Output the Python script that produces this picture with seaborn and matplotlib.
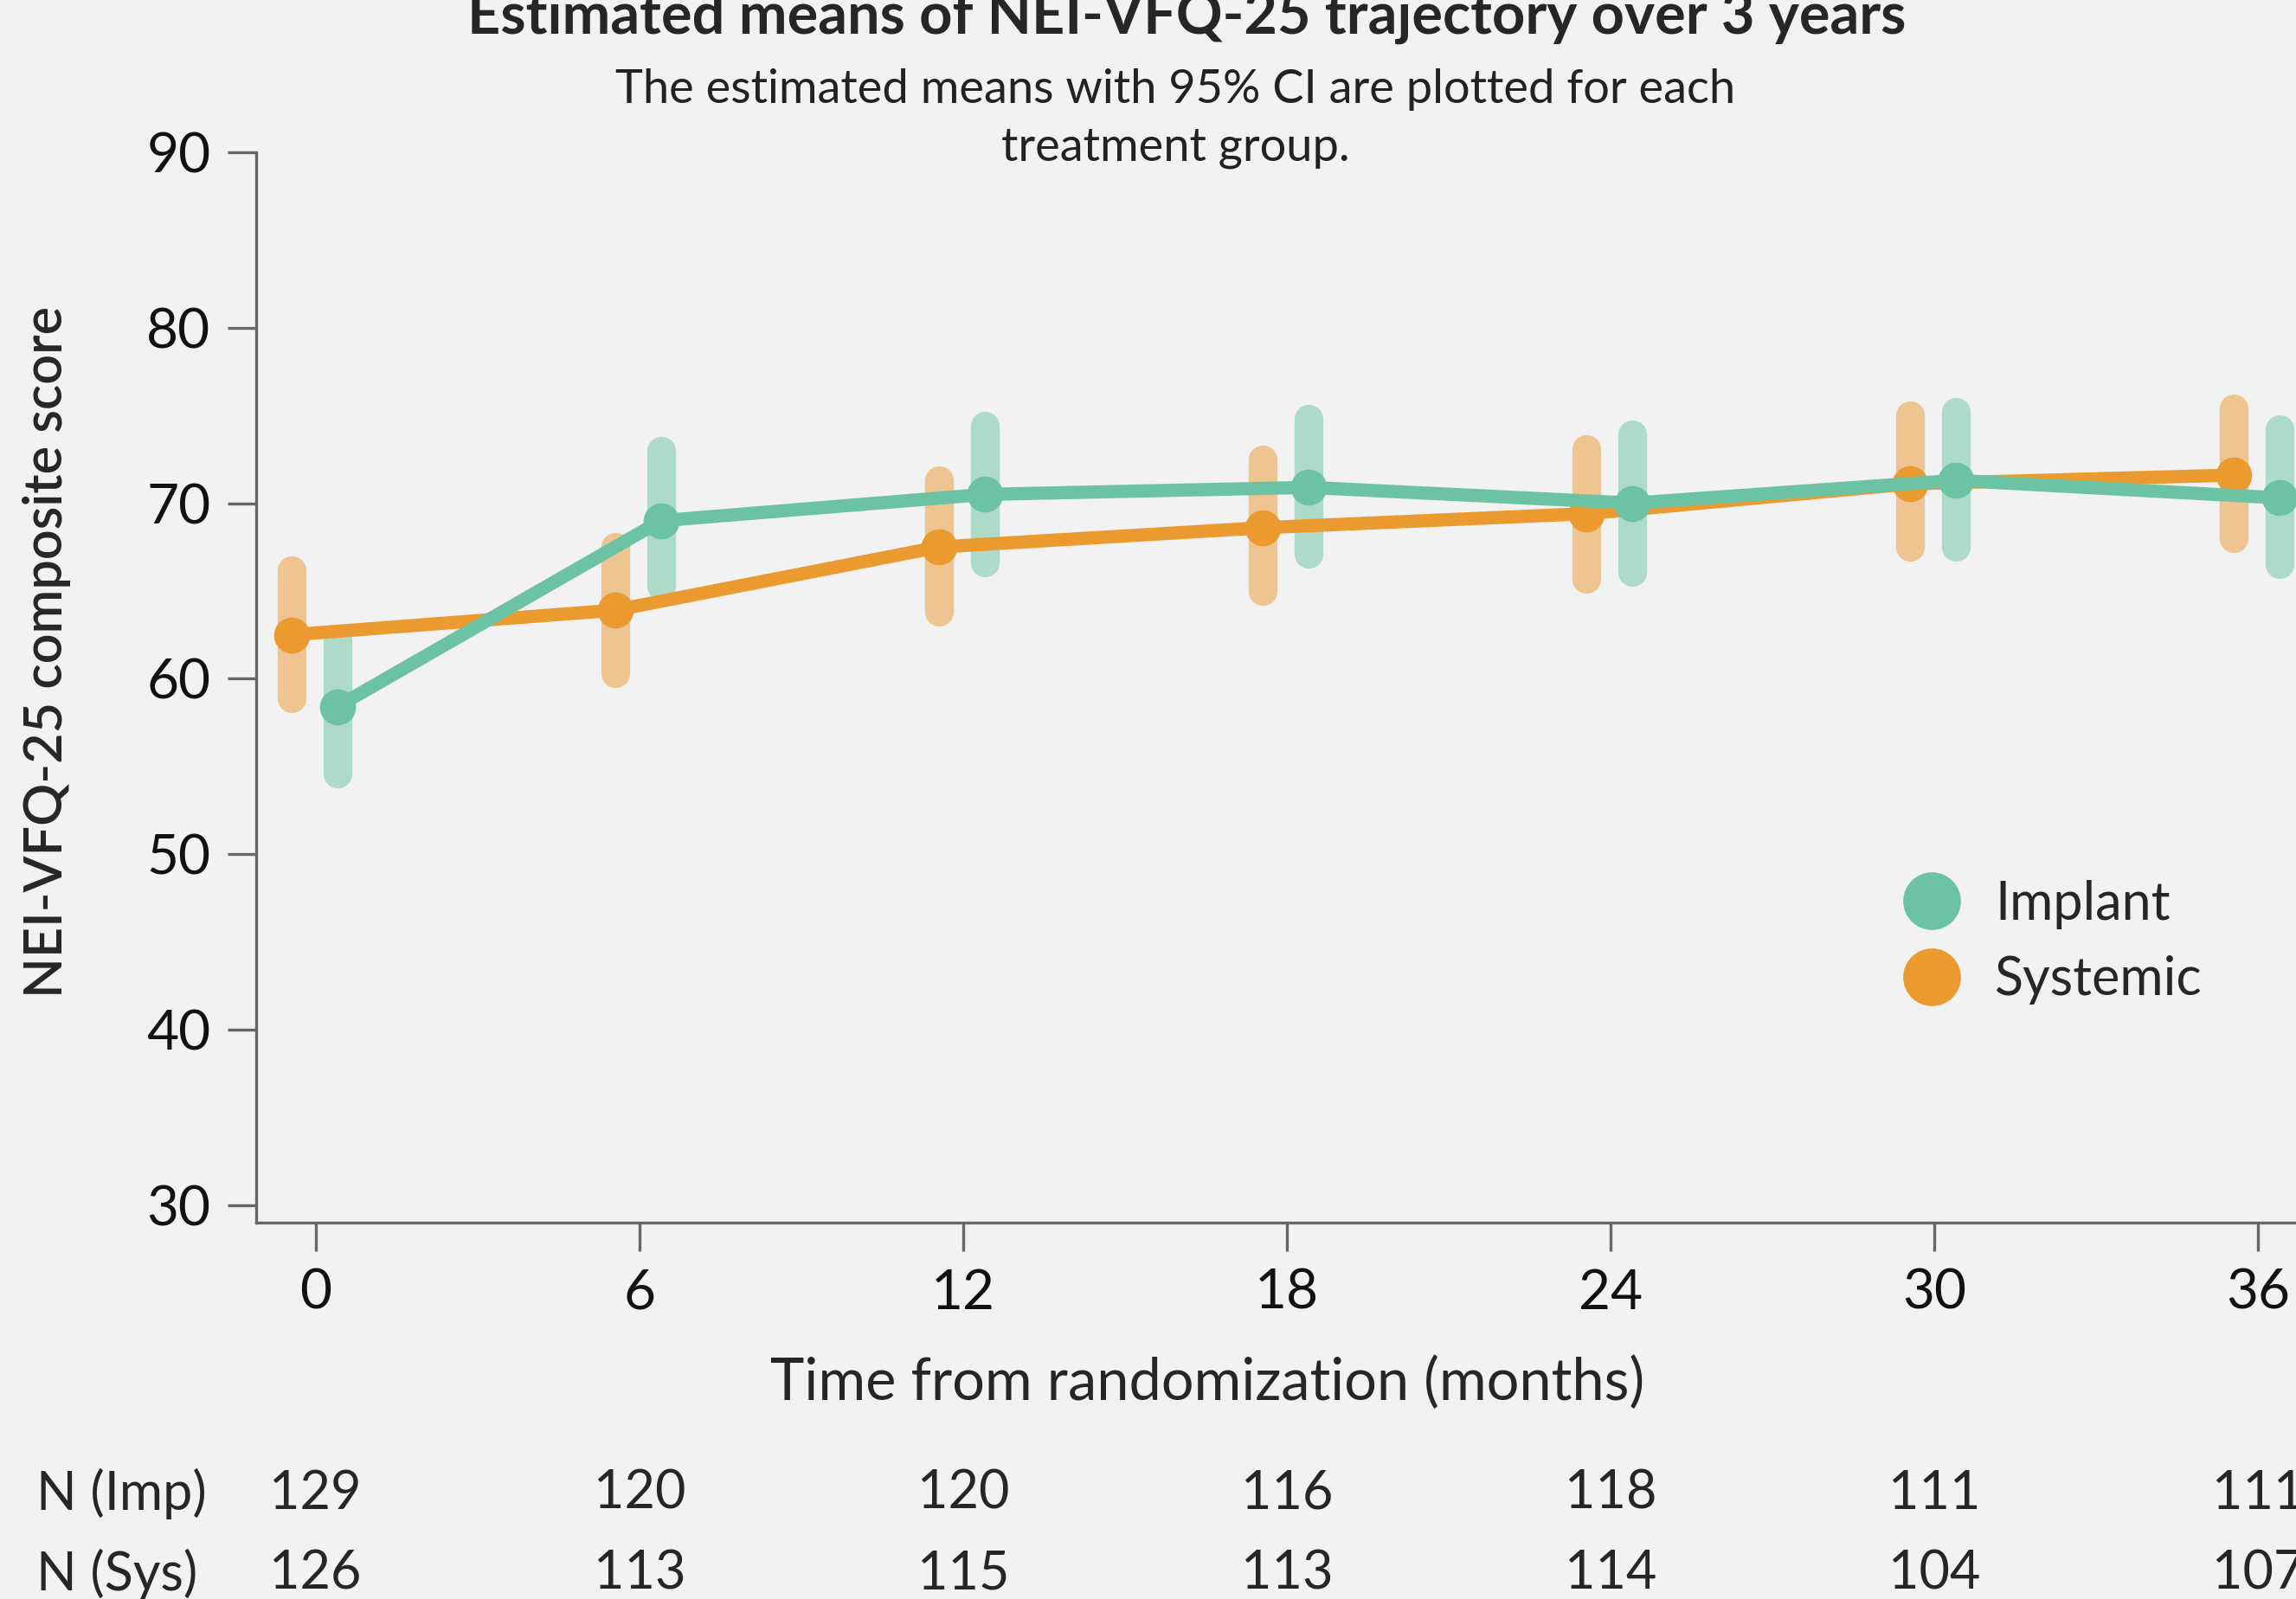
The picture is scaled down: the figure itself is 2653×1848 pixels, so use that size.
import pandas as pd
import seaborn as sns
import matplotlib.pyplot as plt
from matplotlib.lines import Line2D
from matplotlib.transforms import blended_transform_factory

# Estimated means with 95% CI
months = [0, 6, 12, 18, 24, 30, 36]
imp_mean = [58.4, 69.0, 70.5, 70.9, 70.0, 71.3, 70.3]
imp_lo = [54.6, 65.3, 66.6, 67.1, 66.1, 67.5, 66.5]
imp_hi = [62.2, 73.0, 74.4, 74.8, 73.9, 75.2, 74.2]
sys_mean = [62.5, 63.9, 67.5, 68.6, 69.4, 71.1, 71.6]
sys_lo = [58.9, 60.3, 63.8, 65.0, 65.7, 67.5, 68.0]
sys_hi = [66.2, 67.5, 71.3, 72.5, 73.1, 75.0, 75.4]
n_imp = [129, 120, 120, 116, 118, 111, 111]
n_sys = [126, 113, 115, 113, 114, 104, 107]

groups = ["Implant", "Systemic"]
colors = {"Implant": "#6cc3a3", "Systemic": "#eb9a2f"}
dodge = {"Implant": 0.4, "Systemic": -0.45}

rows = []
for g, m, lo, hi in [("Implant", imp_mean, imp_lo, imp_hi),
                     ("Systemic", sys_mean, sys_lo, sys_hi)]:
    for t, a, b, c in zip(months, m, lo, hi):
        rows.append({"group": g, "month": t, "x": t + dodge[g],
                     "mean": a, "lo": b, "hi": c})
df = pd.DataFrame(rows)

sns.set_theme(style="ticks")
bg = "#f2f2f2"
plt.rcParams["font.family"] = ["Lato", "DejaVu Sans"]
plt.rcParams["figure.facecolor"] = bg
plt.rcParams["axes.facecolor"] = bg

fig, ax = plt.subplots(figsize=(13.265, 9.24), dpi=200)
fig.subplots_adjust(left=0.1116, right=1.0, top=0.9048, bottom=0.2354)

# CI bars
for g in ["Systemic", "Implant"]:
    d = df[df["group"] == g]
    ax.vlines(d["x"], d["lo"], d["hi"], color=colors[g], alpha=0.5,
              linewidth=12, capstyle="round", zorder=2)

# mean trajectories
sns.lineplot(data=df, x="x", y="mean", hue="group", hue_order=["Systemic", "Implant"],
             palette=colors, marker="o", markersize=15, markeredgewidth=0,
             linewidth=5.5, legend=False, ax=ax, zorder=3)

ax.set_xlim(-1.1, 36.7)
ax.set_ylim(29, 90)
ax.set_xticks(months)
ax.set_yticks([30, 40, 50, 60, 70, 80, 90])
ax.set_xlabel("")
ax.set_ylabel("")
ax.tick_params(axis="both", labelsize=23, length=12, width=1.2, color="#666666",
               labelcolor="#111111", pad=7)
for s in ["top", "right"]:
    ax.spines[s].set_visible(False)
for s in ["left", "bottom"]:
    ax.spines[s].set_color("#666666")
    ax.spines[s].set_linewidth(1.2)

handles = [Line2D([], [], marker="o", linestyle="none", markersize=24,
                  markerfacecolor=colors[g], markeredgewidth=0) for g in groups]
ax.legend(handles, groups, frameon=False, loc="center left",
          bbox_to_anchor=(0.772, 0.262), fontsize=22, handletextpad=0.2,
          labelspacing=0.5)

fig.text(0.517, 0.979, "Estimated means of NEI-VFQ-25 trajectory over 3 years",
         ha="center", va="baseline", fontsize=24, fontweight="bold")
fig.text(0.512, 0.926, "The estimated means with 95% CI are plotted for each\ntreatment group.",
         ha="center", va="center", fontsize=19.5, linespacing=1.45, color="#222222")
fig.text(0.0204, 0.5925, "NEI-VFQ-25 composite score", rotation=90,
         ha="center", va="center", fontsize=22, fontweight="semibold")
fig.text(0.526, 0.1347, "Time from randomization (months)",
         ha="center", va="center", fontsize=24)

# N at risk rows
trans = blended_transform_factory(ax.transData, fig.transFigure)
for label, vals, y in [("N (Imp)", n_imp, 0.066), ("N (Sys)", n_sys, 0.0157)]:
    fig.text(0.016, y, label, ha="left", va="center", fontsize=22)
    for t, v in zip(months, vals):
        ax.text(t, y, str(v), transform=trans, ha="center", va="center",
                fontsize=22, clip_on=False)

fig.savefig("out.png", dpi=200, facecolor=bg)
